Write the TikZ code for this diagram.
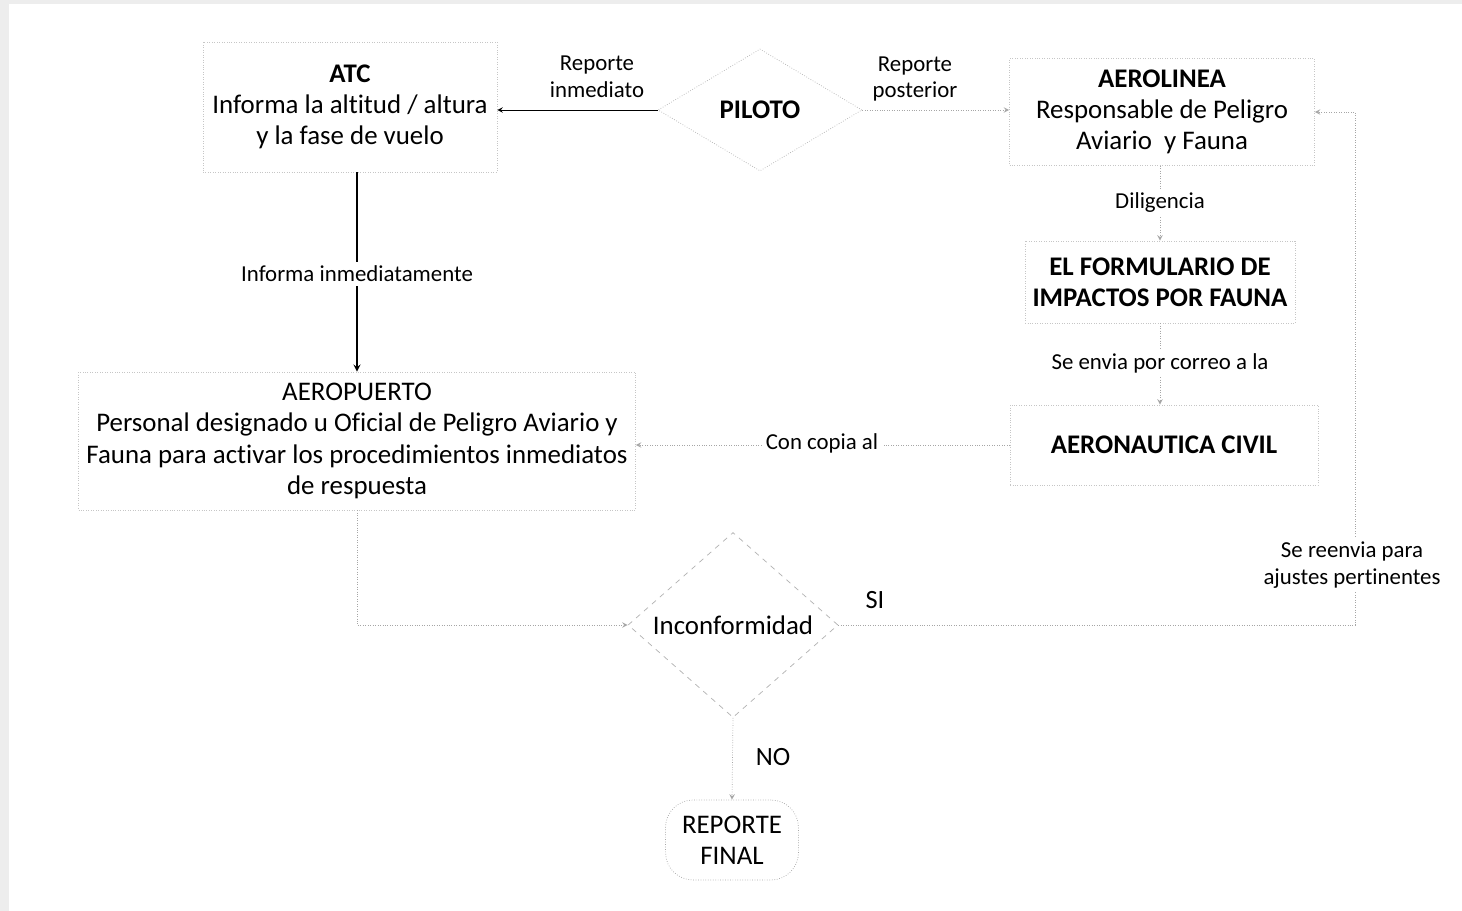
\documentclass[tikz,border=0pt]{standalone}
\usepackage{fontspec}
\setmainfont[Ligatures=CommonOff]{Carlito}
\usetikzlibrary{shapes.geometric}
\begin{document}
\begin{tikzpicture}[x=0.02cm,y=-0.02cm,>=stealth,
  box/.style={draw=gray!45,densely dotted,align=center,inner sep=0pt,
    font=\fontsize{15.3}{17.8}\selectfont},
  rombo/.style={diamond,draw=gray!60,align=center,inner sep=0pt,
    font=\fontsize{15.3}{17.8}\selectfont},
  lbl/.style={align=center,font=\fontsize{13}{15.3}\selectfont},
  cut/.style={lbl,fill=white,inner sep=2pt},
  flow/.style={->,gray!70,densely dotted},
  hard/.style={->,black,thick}]
%\draw[step=100,gray,very thin] (0,0) grid (1462,911);
\useasboundingbox (0,0) rectangle (1462,911);
\fill[black!7] (0,0) rectangle (1462,911);
\fill[white] (9,4) rectangle (1462,911);
% boxes
\node[box,minimum width=5.88cm,minimum height=2.6cm] (atc) at (350,107)
  {\textbf{ATC}\\Informa la altitud / altura\\y la fase de vuelo};
\node[rombo,densely dotted,minimum width=4.08cm,minimum height=2.44cm] (piloto) at (760,110)
  {\textbf{PILOTO}};
\node[box,minimum width=6.1cm,minimum height=2.14cm] (aerol) at (1162,112)
  {\textbf{AEROLINEA}\\Responsable de Peligro\\Aviario\ \ y Fauna};
\node[box,minimum width=5.4cm,minimum height=1.64cm] (form) at (1160,282)
  {\textbf{EL FORMULARIO DE}\\\textbf{IMPACTOS POR FAUNA}};
\node[box,minimum width=6.16cm,minimum height=1.6cm] (aeron) at (1164,445)
  {\textbf{AERONAUTICA CIVIL}};
\node[box,minimum width=11.14cm,minimum height=2.76cm] (aerop) at (357,441)
  {AEROPUERTO\\Personal designado u Oficial de Peligro Aviario y\\
   Fauna para activar los procedimientos inmediatos\\de respuesta};
\node[rombo,dashed,minimum width=4.2cm,minimum height=3.7cm] (incon) at (733,625)
  {Inconformidad};
\node[box,draw=gray!70,rounded corners=0.55cm,minimum width=2.66cm,minimum height=1.6cm] (final) at (732,840)
  {REPORTE\\FINAL};
% connectors
\draw[hard,thin] (piloto.west) -- (piloto.west -| atc.east);
\node[lbl] (inm) at (597,77) {Reporte\\inmediato};
\draw[flow] (piloto.east) -- (piloto.east -| aerol.west);
\node[lbl] (post) at (915,79) {Reporte\\posterior};
\draw[hard] (atc.south -| aerop.north) -- (aerop.north);
\node[cut] (infi) at (357,274) {Informa inmediatamente};
\draw[flow] (aerol.south -| form.north) -- (form.north);
\node[cut] (dil) at (1160,203) {Diligencia};
\draw[flow] (form.south) -- (form.south |- aeron.north);
\node[cut] (corr) at (1160,363) {Se envia por correo a la};
\draw[flow] (aeron.west) -- (aeron.west -| aerop.east);
\node[cut] (copia) at (822,443) {Con copia al};
\draw[flow] (aerop.south) |- (incon.west);
\coordinate (ret) at (1355,112);
\draw[flow] (incon.east) -| (ret) -- (aerol.east);
\node[cut] (reenv) at (1352,565) {Se reenvia para\\ajustes pertinentes};
\node[lbl,font=\fontsize{15}{17}\selectfont] (si) at (875,600) {SI};
\draw[flow] (incon.south) -- (final.north);
\node[lbl,font=\fontsize{15}{17}\selectfont] (no) at (773,757) {NO};
\end{tikzpicture}
\end{document}
